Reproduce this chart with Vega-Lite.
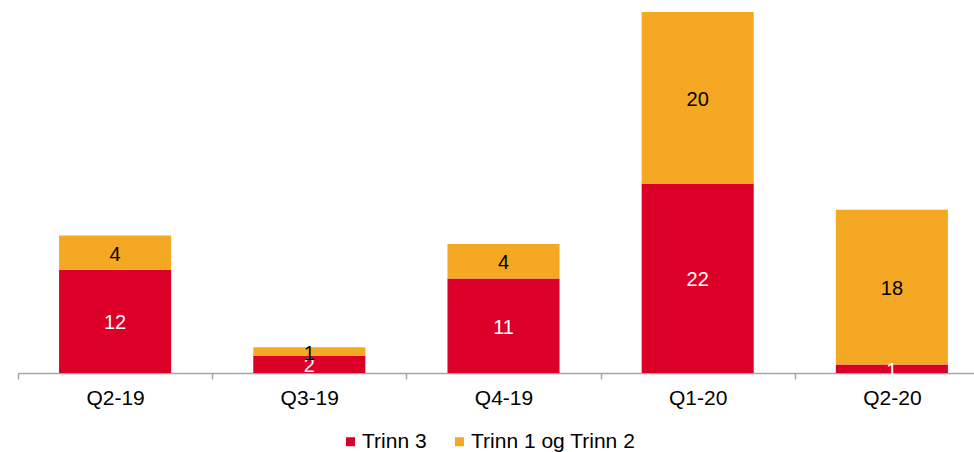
{
  "$schema": "https://vega.github.io/schema/vega-lite/v6.json",
  "width": 956,
  "height": 361,
  "autosize": {"type": "none"},
  "padding": {"left": 18, "top": 12, "right": 0, "bottom": 79},
  "background": "white",
  "config": {
    "view": {"stroke": null},
    "font": "Liberation Sans"
  },
  "data": {
    "values": [
      {"quarter": "Q2-19", "series": "Trinn 3", "value": 12},
      {"quarter": "Q2-19", "series": "Trinn 1 og Trinn 2", "value": 4},
      {"quarter": "Q3-19", "series": "Trinn 3", "value": 2},
      {"quarter": "Q3-19", "series": "Trinn 1 og Trinn 2", "value": 1},
      {"quarter": "Q4-19", "series": "Trinn 3", "value": 11},
      {"quarter": "Q4-19", "series": "Trinn 1 og Trinn 2", "value": 4},
      {"quarter": "Q1-20", "series": "Trinn 3", "value": 22},
      {"quarter": "Q1-20", "series": "Trinn 1 og Trinn 2", "value": 20},
      {"quarter": "Q2-20", "series": "Trinn 3", "value": 1},
      {"quarter": "Q2-20", "series": "Trinn 1 og Trinn 2", "value": 18}
    ]
  },
  "transform": [
    {
      "stack": "value",
      "groupby": ["quarter"],
      "sort": [{"field": "series", "order": "descending"}],
      "as": ["y0", "y1"]
    },
    {"calculate": "(datum.y0 + datum.y1) / 2", "as": "ymid"}
  ],
  "encoding": {
    "x": {
      "field": "quarter",
      "type": "nominal",
      "sort": ["Q2-19", "Q3-19", "Q4-19", "Q1-20", "Q2-20"],
      "scale": {"range": [0, 971], "paddingInner": 0, "paddingOuter": 0},
      "axis": {
        "title": null,
        "labelAngle": 0,
        "labelFontSize": 21,
        "labelColor": "#000000",
        "labelPadding": 8,
        "domainColor": "#a6a6a6",
        "domainWidth": 1.5,
        "tickColor": "#a6a6a6",
        "tickWidth": 1.5,
        "tickSize": 6,
        "tickBand": "extent"
      }
    }
  },
  "layer": [
    {
      "mark": {"type": "bar", "width": {"band": 0.577}},
      "encoding": {
        "y": {
          "field": "y1",
          "type": "quantitative",
          "scale": {"domain": [0, 42], "nice": false},
          "axis": null
        },
        "y2": {"field": "y0"},
        "color": {
          "field": "series",
          "type": "nominal",
          "scale": {
            "domain": ["Trinn 3", "Trinn 1 og Trinn 2"],
            "range": ["#DC0029", "#F5A823"]
          },
          "legend": {
            "orient": "none",
            "legendX": 322,
            "legendY": 419,
            "direction": "horizontal",
            "title": null,
            "symbolType": "square",
            "symbolSize": 81,
            "symbolStrokeWidth": 0,
            "labelFontSize": 21,
            "labelLimit": 400,
            "labelColor": "#000000",
            "labelOffset": 1,
            "columnPadding": 22,
            "padding": 0
          }
        }
      }
    },
    {
      "mark": {"type": "text", "fontSize": 20, "baseline": "middle", "align": "center", "dy": 2},
      "encoding": {
        "y": {"field": "ymid", "type": "quantitative"},
        "text": {"field": "value", "type": "quantitative"},
        "color": {
          "condition": {"test": "datum.series === 'Trinn 3'", "value": "#ffffff"},
          "value": "#000000"
        }
      }
    }
  ]
}
